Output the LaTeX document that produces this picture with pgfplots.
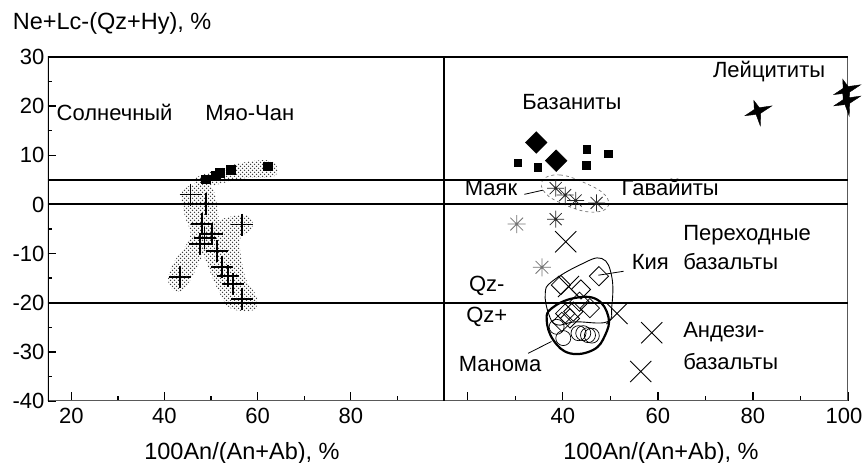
\documentclass[border=0pt]{standalone}
\usepackage{pgfplots}
\pgfplotsset{compat=1.18}
\usepackage{fontspec}
\setmainfont{Liberation Sans}
\usetikzlibrary{patterns}

\newcommand\lbl{\fontsize{22}{26}\selectfont}
\newcommand\xlbl{\fontsize{23.5}{28}\selectfont}

\pgfdeclarepatternformonly{stipple}{\pgfqpoint{-1pt}{-1pt}}{\pgfqpoint{5pt}{5pt}}{\pgfqpoint{4pt}{4pt}}{%
  \pgfpathcircle{\pgfqpoint{0.5pt}{0.5pt}}{0.75pt}%
  \pgfpathcircle{\pgfqpoint{2.5pt}{2.5pt}}{0.75pt}%
  \pgfusepath{fill}%
}

\pgfdeclareplotmark{lstar}{%
  \pgfpathmoveto{\pgfpointpolar{20}{1\pgfplotmarksize}}%
  \pgfpathlineto{\pgfpointpolar{65}{0.25\pgfplotmarksize}}%
  \pgfpathlineto{\pgfpointpolar{110}{0.75\pgfplotmarksize}}%
  \pgfpathlineto{\pgfpointpolar{155}{0.25\pgfplotmarksize}}%
  \pgfpathlineto{\pgfpointpolar{200}{0.9\pgfplotmarksize}}%
  \pgfpathlineto{\pgfpointpolar{245}{0.25\pgfplotmarksize}}%
  \pgfpathlineto{\pgfpointpolar{280}{1\pgfplotmarksize}}%
  \pgfpathlineto{\pgfpointpolar{325}{0.25\pgfplotmarksize}}%
  \pgfpathclose
  \pgfusepathqfillstroke
}
\pgfdeclareplotmark{ast8}{%
  \pgfpathmoveto{\pgfqpoint{-\pgfplotmarksize}{0pt}}\pgfpathlineto{\pgfqpoint{\pgfplotmarksize}{0pt}}%
  \pgfpathmoveto{\pgfqpoint{0pt}{-\pgfplotmarksize}}\pgfpathlineto{\pgfqpoint{0pt}{\pgfplotmarksize}}%
  \pgfpathmoveto{\pgfqpoint{-.7071\pgfplotmarksize}{-.7071\pgfplotmarksize}}\pgfpathlineto{\pgfqpoint{.7071\pgfplotmarksize}{.7071\pgfplotmarksize}}%
  \pgfpathmoveto{\pgfqpoint{-.7071\pgfplotmarksize}{.7071\pgfplotmarksize}}\pgfpathlineto{\pgfqpoint{.7071\pgfplotmarksize}{-.7071\pgfplotmarksize}}%
  \pgfusepathqstroke
}

\pgfplotsset{
  panel/.style={
    scale only axis, height=344pt,
    xmin=15, xmax=100, ymin=-40, ymax=30,
    tick align=inside, tick pos=left,
    major tick length=8.5pt, minor tick length=4.5pt,
    axis line style={draw=none},
    tick style={line width=1.3pt, black},
    ticklabel style={font=\lbl},
    xticklabel style={yshift=-4pt},
    /pgf/number format/assume math mode=true,
    every axis x label/.style={at={(axis description cs:0.5,0)}, anchor=center, yshift=-52pt, font=\xlbl},
  }
}

\begin{document}
\begin{tikzpicture}
\path[use as bounding box] (0,0) rectangle (863pt,463pt);

\node[anchor=base west, inner sep=0pt, font=\xlbl] at (12.7pt,433pt) {Ne+Lc-(Qz+Hy), \%};

% ---------------- left panel ----------------
\begin{axis}[panel, at={(48pt,62pt)}, anchor=south west, width=396pt,
  xtick={20,40,60,80}, minor xtick={30,50,70,90},
  ytick={-40,-30,...,30}, minor ytick={-35,-25,...,25},
  xlabel={100An/(An+Ab), \%}, xlabel style={xshift=-4pt}]
  % stippled fields
  \fill[pattern=stipple, pattern color=black!75] plot[smooth cycle, tension=0.6] coordinates {
    (46.5,5.3) (51.2,7.0) (56.2,8.4) (61.9,9.0) (64.1,7.7) (63.3,5.6) (56.9,5.3) (50.5,3.9) (46.9,3.9)};
  \fill[pattern=stipple, pattern color=black!75] plot[smooth cycle, tension=0.6] coordinates {
    (44.8,3.6) (49.8,3.6) (51.2,0.2) (51.5,-4.5) (49.1,-8.6) (45.1,-16.1) (42.6,-17.8) (40.8,-15.7) (41.9,-12.0) (45.5,-6.6) (44.4,-2.5) (43.7,1.6)};
  \fill[pattern=stipple, pattern color=black!75] plot[smooth cycle, tension=0.6] coordinates {
    (54.1,-2.5) (58.3,-2.5) (58.7,-5.2) (56.2,-7.2) (57.3,-14.7) (59.8,-18.8) (59.1,-21.5) (54.1,-21.1) (51.5,-17.4) (49.1,-12.0) (47.6,-7.9) (49.1,-4.5)};
  % frame
  \draw[line width=1.2pt, black!65] (rel axis cs:0,0) -- (rel axis cs:1,0);
  \draw[line width=1.2pt, black] (rel axis cs:0,0) -- (rel axis cs:0,1) -- (rel axis cs:1,1) -- (rel axis cs:1,0);
  % boundaries
  \addplot[black, line width=2pt, forget plot] coordinates {(15,5) (100,5)};
  \addplot[black, line width=2pt, forget plot] coordinates {(15,0) (100,0)};
  \addplot[black, line width=2pt, forget plot] coordinates {(15,-20) (100,-20)};
  % data
  \addplot[only marks, mark=square*, mark size=4.3pt, black] coordinates {
    (48.9,5.1) (51.0,5.8) (51.9,6.5) (54.2,7.1) (62.1,7.8)};
  \addplot[only marks, mark=+, mark size=11pt, black, line width=1.8pt] coordinates {
    (45.6,2.0) (48.9,0) (48.1,-4.0) (56.7,-4.1) (50.2,-6.0) (48.6,-6.8) (47.6,-8.0)
    (51.2,-9.5) (52.4,-12.7) (53.6,-14.5) (54.7,-16.2) (56.7,-19.2) (43.3,-14.8)};
  \node[font=\lbl, anchor=mid, inner sep=0pt] at (axis cs:29.3,17.6) {Солнечный};
  \node[font=\lbl, anchor=mid, inner sep=0pt] at (axis cs:58.3,17.6) {Мяо-Чан};
\end{axis}

% ---------------- right panel ----------------
\begin{axis}[panel, at={(444pt,62pt)}, anchor=south west, width=404pt,
  xtick={20,40,60,80,100}, xticklabels={,40,60,80,\hspace*{-8pt}100}, minor xtick={30,50,70,90},
  ytick=\empty, minor ytick={-35,-30,...,25},
  xlabel={100An/(An+Ab), \%}, xlabel style={xshift=15pt}]
  % outlines
  \draw[black!55, dashed, line width=0.7pt] plot[smooth cycle, tension=0.7] coordinates {
    (35.8,5.0) (39.4,6.0) (44.7,4.35) (48.9,1.9) (49.3,-0.7) (45.7,-1.55) (40.5,-0.1) (36.3,2.3)};
  \draw[black, line width=0.9pt] plot[smooth cycle, tension=0.7] coordinates {
    (37.7,-15.7) (43.6,-12.3) (48.2,-11.0) (50.3,-14.7) (50.3,-20.8) (49.3,-23.9) (42.6,-23.9) (38.7,-24.5) (37.0,-22.2) (36.3,-18.1)};
  \draw[black, line width=2.2pt] plot[smooth cycle, tension=0.7] coordinates {
    (42.2,-19.1) (47.1,-19.3) (49.6,-22.9) (48.9,-26.6) (46.4,-29.6) (41.5,-30.3) (38.0,-27.6) (36.6,-23.5) (37.7,-21.1)};
  % frame
  \draw[line width=1.2pt, black!65] (rel axis cs:0,0) -- (rel axis cs:1,0) -- (rel axis cs:1,1);
  \draw[line width=1.2pt, black] (rel axis cs:0,0) -- (rel axis cs:0,1) -- (rel axis cs:1,1);
  \addplot[black, line width=2pt, forget plot] coordinates {(15,5) (100,5)};
  \addplot[black, line width=2pt, forget plot] coordinates {(15,0) (100,0)};
  \addplot[black, line width=2pt, forget plot] coordinates {(15,-20) (100,-20)};
  % leader lines
  \addplot[black, line width=0.8pt] coordinates {(31.9,2.05) (35.8,2.9)};
  \addplot[black, line width=0.8pt] coordinates {(52.8,-13.6) (47.5,-14.4)};
  \addplot[black, line width=0.8pt] coordinates {(32.7,-30.3) (37.6,-27.9)};
  % data
  \addplot[only marks, mark=lstar, mark size=15pt, black] coordinates {
    (81,19) (99.7,23.3) (99.7,21.0)};
  \addplot[only marks, mark=square*, mark size=7.7pt, black, mark options={rotate=45}] coordinates {
    (34.4,12.6) (38.6,8.9)};
  \addplot[only marks, mark=square*, mark size=3.8pt, black] coordinates {
    (30.5,8.5) (34.7,7.6) (45.0,11.2) (44.9,8.0) (49.5,10.3)};
  \addplot[only marks, mark=ast8, mark size=8.5pt, black!85, line width=0.8pt] coordinates {
    (38.5,3.3) (40.5,1.9) (42.7,0.8) (47.1,0.3) (38.5,-3.0)};
  \addplot[only marks, mark=ast8, mark size=9pt, black!55, line width=0.8pt] coordinates {
    (30.3,-4.0) (35.6,-12.8)};
  \addplot[only marks, mark=x, mark size=15pt, black, line width=0.9pt] coordinates {
    (40.6,-7.6) (41.2,-16.7) (51.4,-22.2) (58.7,-26.1) (56.4,-34.0)};
  \addplot[only marks, mark=square, mark size=6.8pt, black, line width=0.8pt, mark options={rotate=45}] coordinates {
    (47.6,-14.6) (39.6,-16.4) (43.8,-17.3) (43.5,-19.8) (40.5,-22.2) (42.2,-21.8) (45.7,-21.1) (39.8,-23.9) (41.5,-23.2)};
  \addplot[only marks, mark=o, mark size=7.5pt, black, line width=0.7pt] coordinates {
    (38.7,-24.9) (40.1,-27.2) (43.3,-26.2) (44.3,-26.2) (45.3,-26.6) (46.1,-26.7)};
  % labels
  \node[font=\lbl, anchor=mid, inner sep=0pt] at (axis cs:83.4,26.3) {Лейцититы};
  \node[font=\lbl, anchor=mid, inner sep=0pt] at (axis cs:41.9,19.9) {Базаниты};
  \node[font=\lbl, anchor=mid, inner sep=0pt] at (axis cs:24.9,2.3) {Маяк};
  \node[font=\lbl, anchor=mid, inner sep=0pt] at (axis cs:62.6,2.3) {Гавайиты};
  \node[font=\lbl, anchor=mid west, inner sep=0pt] at (axis cs:65.3,-6.9) {Переходные};
  \node[font=\lbl, anchor=mid west, inner sep=0pt] at (axis cs:65.3,-12.7) {базальты};
  \node[font=\lbl, anchor=mid, inner sep=0pt] at (axis cs:58.4,-12.7) {Кия};
  \node[font=\lbl, anchor=mid, inner sep=0pt] at (axis cs:24.0,-17.1) {Qz-};
  \node[font=\lbl, anchor=mid, inner sep=0pt] at (axis cs:24.0,-23.5) {Qz+};
  \node[font=\lbl, anchor=mid west, inner sep=0pt] at (axis cs:65.3,-26.6) {Андези-};
  \node[font=\lbl, anchor=mid west, inner sep=0pt] at (axis cs:65.3,-33.0) {базальты};
  \node[font=\lbl, anchor=mid, inner sep=0pt] at (axis cs:26.8,-33.4) {Манома};
\end{axis}
\end{tikzpicture}
\end{document}
